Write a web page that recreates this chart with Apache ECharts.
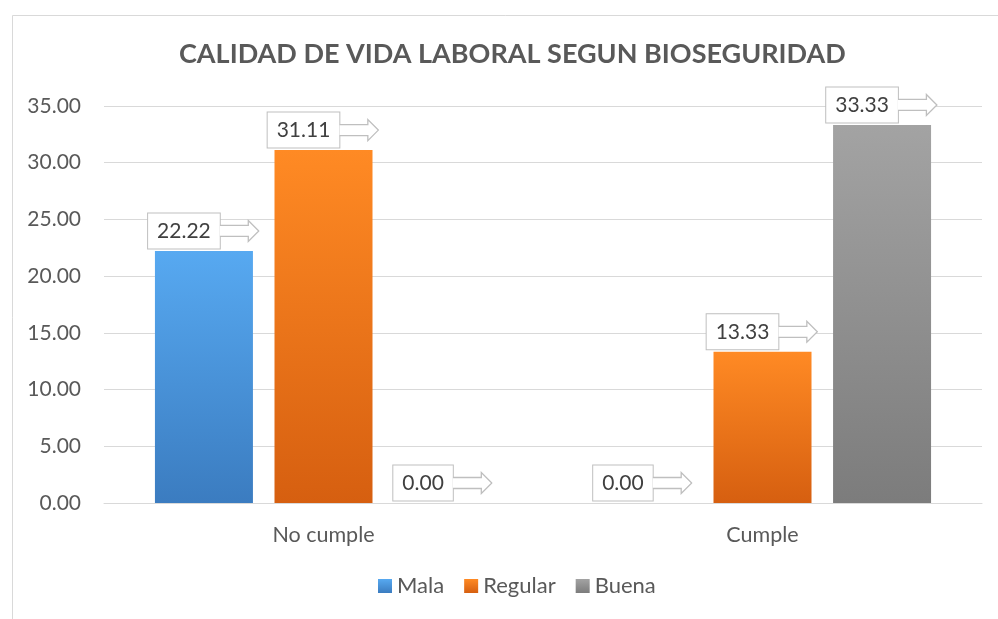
<!DOCTYPE html>
<html>
<head>
	<meta charset="UTF-8">
	<title></title>
	<script type="text/javascript" src="https://cdn.jsdelivr.net/npm/echarts@6/dist/echarts.min.js"></script>
	<style type="text/css">
		html,body{margin:0; padding:0; height:100%; background:#fff;}
		#chart1{width:998px; height:619px;}
	</style>
</head>
<body>
	<div id="chart1"></div>
	<script type="text/javascript">
		// datos
		var categorias = ['No cumple', 'Cumple'];
		var mala = [22.22, 0.00];
		var regular = [31.11, 13.33];
		var buena = [0.00, 33.33];
		var yTicks = [0, 5, 10, 15, 20, 25, 30, 35];

		var fuente = 'Lato';
		// flecha hueca de la etiqueta
		var svgFlecha = '<svg xmlns="http://www.w3.org/2000/svg" width="40" height="24">' +
			'<path d="M0,6.5 H28.5 V1.5 L39,12 L28.5,22.5 V17.5 H0" fill="#ffffff" stroke="#bfbfbf" stroke-width="1.3"/></svg>';
		var imgFlecha = 'data:image/svg+xml;charset=utf-8,' + encodeURIComponent(svgFlecha);

		function etiqueta(){
			return {
				show: true,
				position: 'top',
				distance: 8,
				formatter: function(p){ return '{b|' + p.value.toFixed(2) + '}{a|}'; },
				rich: {
					b: {
						fontFamily: fuente, fontSize: 21, color: '#404040',
						backgroundColor: '#fff', borderColor: '#bfbfbf', borderWidth: 1,
						padding: [7, 9, 7, 9], lineHeight: 24
					},
					a: { width: 40, height: 24, backgroundColor: { image: imgFlecha } }
				}
			};
		}

		function degradado(c1, c2){
			return new echarts.graphic.LinearGradient(0, 0, 0, 1, [
				{offset: 0, color: c1}, {offset: 1, color: c2}
			]);
		}

		let myChart = echarts.init(document.getElementById('chart1'));
		var option = {
			backgroundColor: '#fff',
			animation: false,
			graphic: [{
				type: 'rect', left: 10, top: 13,
				shape: {width: 1000, height: 700},
				style: {fill: 'none', stroke: '#d9d9d9', lineWidth: 1}
			}],
			title: {
				text: 'CALIDAD DE VIDA LABORAL SEGUN BIOSEGURIDAD',
				left: 174, top: 36,
				textStyle: {fontFamily: fuente, fontSize: 27, fontWeight: 'bold', color: '#595959'}
			},
			legend: {
				bottom: 17, left: 373,
				itemWidth: 14, itemHeight: 14, itemGap: 20,
				icon: 'rect',
				textStyle: {fontFamily: fuente, fontSize: 22, color: '#595959'}
			},
			grid: {left: 104, right: 16, top: 106, bottom: 116},
			xAxis: {
				type: 'category',
				data: categorias,
				axisLine: {lineStyle: {color: '#d9d9d9', width: 1}},
				axisTick: {show: false},
				axisLabel: {fontFamily: fuente, fontSize: 21.5, color: '#595959', margin: 21}
			},
			yAxis: {
				type: 'value',
				min: yTicks[0], max: yTicks[yTicks.length - 1], interval: 5,
				axisLine: {show: false},
				axisTick: {show: false},
				splitLine: {lineStyle: {color: '#d9d9d9', width: 1}},
				axisLabel: {
					fontFamily: fuente, fontSize: 21, color: '#595959', margin: 23,
					formatter: function(v){ return v.toFixed(2); }
				}
			},
			series: [
				{
					name: 'Mala', type: 'bar', data: mala,
					barWidth: 98, barGap: '22%', barCategoryGap: '23%',
					itemStyle: {color: degradado('#57a9f1', '#3b7cc0')},
					label: etiqueta()
				},
				{
					name: 'Regular', type: 'bar', data: regular,
					barWidth: 98, barGap: '22%',
					itemStyle: {color: degradado('#ff8a24', '#d65f10')},
					label: etiqueta()
				},
				{
					name: 'Buena', type: 'bar', data: buena,
					barWidth: 98, barGap: '22%',
					itemStyle: {color: degradado('#a3a3a3', '#7c7c7c')},
					label: etiqueta()
				}
			]
		};
		myChart.setOption(option);
	</script>
</body>
</html>
